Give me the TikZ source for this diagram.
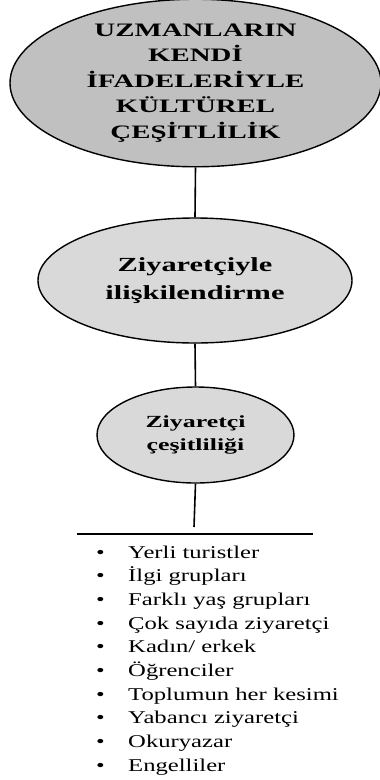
\documentclass[tikz,border=0pt]{standalone}
\usepackage{fontspec}
\setmainfont{Liberation Serif}[FakeStretch=1.37, BoldFeatures={FakeStretch=1.52}]
\usetikzlibrary{shapes.geometric}
\begin{document}
\begin{tikzpicture}[x=1pt,y=-1pt,
  bubble/.style={ellipse, draw=black, line width=1.4pt, inner sep=0pt, align=center, font=\bfseries},
  link/.style={draw=black, line width=1.6pt},
  item/.style={anchor=base west, inner sep=0pt, font=\fontsize{18}{20}\selectfont}
]
\useasboundingbox (0,0) rectangle (380,780);

% three nested levels
\node[bubble, fill={rgb,255:red,192;green,192;blue,192}, minimum width=371pt, minimum height=159pt,
      font=\bfseries\fontsize{19}{25.5}\selectfont] (top) at (195.5,83)
  {UZMANLARIN\\KENDİ\\İFADELERİYLE\\KÜLTÜREL\\ÇEŞİTLİLİK};
\node[bubble, fill={rgb,255:red,217;green,217;blue,217}, minimum width=314pt, minimum height=125pt,
      font=\bfseries\fontsize{20}{28}\selectfont] (mid) at (195,280.5)
  {Ziyaretçiyle\\ilişkilendirme};
\node[bubble, fill={rgb,255:red,217;green,217;blue,217}, minimum width=197pt, minimum height=96pt,
      font=\bfseries\fontsize{17}{23}\selectfont] (low) at (195.5,435)
  {Ziyaretçi\\çeşitliliği};

% bar under the last level
\coordinate (barL) at (77,534);
\coordinate (barR) at (313,534);
\coordinate (stem) at (194,527);

\draw[link] (top.south) -- (mid.north);
\draw[link] (mid.south) -- (low.north);
\draw[link] (low.south) -- (stem);
\draw[link, line width=1.3pt] (barL) -- (barR);

% bulleted list
\foreach \t [count=\i from 0] in {Yerli turistler, İlgi grupları, Farklı yaş grupları,
    Çok sayıda ziyaretçi, Kadın/ erkek, Öğrenciler, Toplumun her kesimi,
    Yabancı ziyaretçi, Okuryazar, Engelliler} {
  \node[item] (b\i) at (96, 558+23.7*\i) {\textbullet};
  \node[item] (t\i) at (128, 558+23.7*\i) {\t};
}
\end{tikzpicture}
\end{document}
